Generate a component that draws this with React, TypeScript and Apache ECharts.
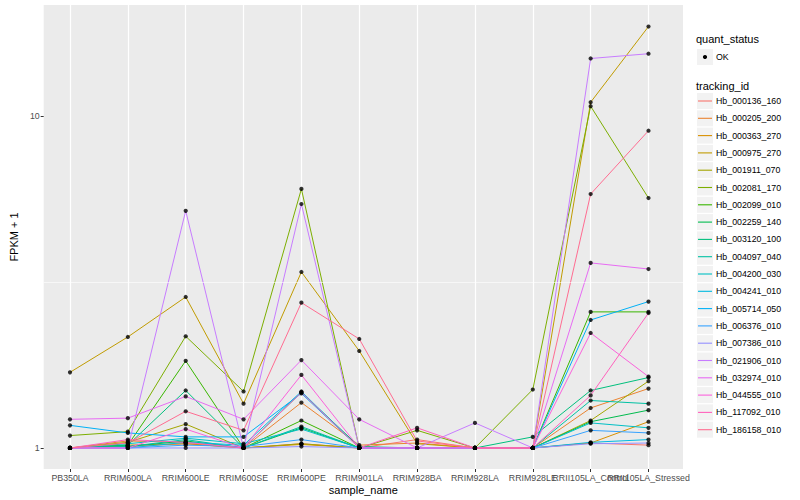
import React, { useEffect, useRef } from "react";
import * as echarts from "echarts";

const categories = [
  "PB350LA", "RRIM600LA", "RRIM600LE", "RRIM600SE", "RRIM600PE", "RRIM901LA",
  "RRIM928BA", "RRIM928LA", "RRIM928LE", "RRII105LA_Control", "RRII105LA_Stressed",
];

const trackingIds = [
  "Hb_000136_160", "Hb_000205_200", "Hb_000363_270", "Hb_000975_270", "Hb_001911_070",
  "Hb_002081_170", "Hb_002099_010", "Hb_002259_140", "Hb_003120_100", "Hb_004097_040",
  "Hb_004200_030", "Hb_004241_010", "Hb_005714_050", "Hb_006376_010", "Hb_007386_010",
  "Hb_021906_010", "Hb_032974_010", "Hb_044555_010", "Hb_117092_010", "Hb_186158_010",
];

const colors = [
  "#F8766D", "#EA8331", "#D89000", "#C09B00", "#A3A500", "#7CAE00", "#39B600", "#00BB4E",
  "#00BF7D", "#00C1A3", "#00BFC4", "#00BAE0", "#00B0F6", "#35A2FF", "#9590FF", "#C77CFF",
  "#E76BF3", "#FA62DB", "#FF62BC", "#FF6C91",
];

// FPKM + 1 per sample, in category order
const hb_000136_160 = [1, 1.01, 1.03, 1.0, 1.03, 1.0, 1.06, 1.0, 1.0, 1.035, 1.02];
const hb_000205_200 = [1, 1.05, 1.04, 1.0, 1.37, 1.02, 1.035, 1.0, 1.0, 1.32, 1.51];
const hb_000363_270 = [1, 1.02, 1.03, 1.0, 1.025, 1.0, 1.0, 1.0, 1.0, 1.035, 1.2];
const hb_000975_270 = [1.69, 2.16, 2.85, 1.36, 3.39, 1.96, 1.03, 1.0, 1.0, 11.0, 18.6];
const hb_001911_070 = [1, 1.04, 1.18, 1.0, 1.03, 1.0, 1.0, 1.0, 1.0, 1.21, 1.59];
const hb_002081_170 = [1.09, 1.12, 2.17, 1.48, 6.03, 1.0, 1.13, 1.0, 1.5, 10.7, 5.66];
const hb_002099_010 = [1, 1.02, 1.83, 1.0, 1.21, 1.0, 1.0, 1.0, 1.0, 2.57, 2.57];
const hb_002259_140 = [1, 1.01, 1.05, 1.0, 1.15, 1.0, 1.0, 1.0, 1.0, 1.2, 1.3];
const hb_003120_100 = [1, 1.02, 1.49, 1.0, 1.47, 1.01, 1.0, 1.0, 1.08, 1.49, 1.63];
const hb_004097_040 = [1, 1.01, 1.06, 1.0, 1.16, 1.0, 1.0, 1.0, 1.0, 1.39, 1.36];
const hb_004200_030 = [1, 1.03, 1.07, 1.03, 1.14, 1.0, 1.0, 1.0, 1.0, 1.19, 1.15];
const hb_004241_010 = [1, 1.0, 1.04, 1.02, 1.48, 1.0, 1.0, 1.0, 1.0, 1.04, 1.06];
const hb_005714_050 = [1.17, 1.11, 1.08, 1.08, 1.46, 1.0, 1.0, 1.0, 1.0, 2.43, 2.76];
const hb_006376_010 = [1, 1.0, 1.02, 1.01, 1.06, 1.0, 1.0, 1.0, 1.0, 1.13, 1.11];
const hb_007386_010 = [1, 1.0, 1.0, 1.0, 1.01, 1.0, 1.0, 1.0, 1.0, 1.03, 1.035];
const hb_021906_010 = [1, 1.0, 5.18, 1.0, 5.43, 1.0, 1.0, 1.19, 1.0, 14.9, 15.4];
const hb_032974_010 = [1.22, 1.23, 1.43, 1.22, 1.84, 1.22, 1.0, 1.0, 1.0, 3.61, 3.46];
const hb_044555_010 = [1, 1.0, 1.14, 1.0, 1.66, 1.0, 1.0, 1.0, 1.0, 2.22, 1.64];
const hb_117092_010 = [1, 1.06, 1.04, 1.0, 1.47, 1.0, 1.15, 1.0, 1.0, 1.44, 2.55];
const hb_186158_010 = [1, 1.035, 1.29, 1.13, 2.74, 2.13, 1.05, 1.0, 1.0, 5.82, 9.03];

const seriesValues = [
  hb_000136_160, hb_000205_200, hb_000363_270, hb_000975_270, hb_001911_070,
  hb_002081_170, hb_002099_010, hb_002259_140, hb_003120_100, hb_004097_040,
  hb_004200_030, hb_004241_010, hb_005714_050, hb_006376_010, hb_007386_010,
  hb_021906_010, hb_032974_010, hb_044555_010, hb_117092_010, hb_186158_010,
];

const yTicks = [1, 10];
const FONT = "Liberation Sans, Arial, Helvetica, sans-serif";

export default function App() {
  const ref = useRef<HTMLDivElement>(null);

  useEffect(() => {
    if (!ref.current) return;
    const chart = echarts.init(ref.current, undefined, { renderer: "svg" });

    const yMin = Math.pow(10, -0.0633);
    const yMax = Math.pow(10, 1.3343);

    const lineSeries = seriesValues.map((vals, k) => ({
      name: trackingIds[k],
      type: "line",
      xAxisIndex: 1,
      yAxisIndex: 1,
      data: vals,
      symbol: "none",
      showSymbol: false,
      lineStyle: { color: colors[k], width: 1 },
      itemStyle: { color: colors[k] },
      z: 3,
    }));

    const points: number[][] = [];
    seriesValues.forEach((vals) => vals.forEach((v, i) => points.push([i, v])));

    const graphics: any[] = [];
    graphics.push({
      type: "text", left: 696, top: 33,
      style: { text: "quant_status", fontSize: 11, fontFamily: FONT, fill: "#000" },
    });
    graphics.push({ type: "rect", shape: { x: 697, y: 49, width: 16, height: 16 }, style: { fill: "#F2F2F2" } });
    graphics.push({ type: "circle", shape: { cx: 705, cy: 57, r: 2.1 }, style: { fill: "#000" } });
    graphics.push({
      type: "text", x: 716, y: 57,
      style: { text: "OK", fontSize: 8.8, fontFamily: FONT, fill: "#000", verticalAlign: "middle" },
    });
    graphics.push({
      type: "text", left: 696, top: 80,
      style: { text: "tracking_id", fontSize: 11, fontFamily: FONT, fill: "#000" },
    });
    trackingIds.forEach((id, k) => {
      const cy = 101 + k * 17.3;
      graphics.push({ type: "rect", shape: { x: 697, y: cy - 8, width: 16, height: 16 }, style: { fill: "#F2F2F2" } });
      graphics.push({
        type: "line", shape: { x1: 698, y1: cy, x2: 712, y2: cy },
        style: { stroke: colors[k], lineWidth: 1.1 },
      });
      graphics.push({
        type: "text", x: 716, y: cy,
        style: { text: id, fontSize: 8.8, fontFamily: FONT, fill: "#000", verticalAlign: "middle" },
      });
    });

    const option: any = {
      animation: false,
      backgroundColor: "#FFFFFF",
      textStyle: { fontFamily: FONT },
      grid: [
        { left: 35, right: 117, top: 5, bottom: 31, show: true, backgroundColor: "#EBEBEB", borderWidth: 0 },
        { left: 70, right: 151.5, top: 5, bottom: 31 },
      ],
      xAxis: [
        {
          gridIndex: 0, type: "value", min: 0, max: 1,
          axisLine: { show: false }, axisTick: { show: false }, axisLabel: { show: false },
          splitLine: { show: false },
          name: "sample_name", nameLocation: "middle", nameGap: 15,
          nameTextStyle: { fontSize: 11, color: "#000", fontFamily: FONT },
        },
        {
          gridIndex: 1, type: "category", data: categories, boundaryGap: false,
          axisLine: { show: false },
          axisTick: { show: true, length: 3, interval: 0, lineStyle: { color: "#333333", width: 1 } },
          axisLabel: { interval: 0, fontSize: 8.8, color: "#4D4D4D", margin: 4, fontFamily: FONT },
          splitLine: { show: true, interval: 0, lineStyle: { color: "#FFFFFF", width: 1.2 } },
        },
      ],
      yAxis: [
        {
          gridIndex: 0, type: "log", logBase: 10, min: yMin, max: yMax,
          axisLine: { show: false },
          axisTick: { show: true, length: 3, customValues: yTicks, lineStyle: { color: "#333333", width: 1 } },
          axisLabel: {
            customValues: yTicks, fontSize: 8.8, color: "#4D4D4D", margin: 4, fontFamily: FONT,
            formatter: (v: number) => {
              const e = Math.log10(v);
              return Math.abs(e - Math.round(e)) < 1e-6 ? String(Math.round(v)) : "";
            },
          },
          splitLine: { show: true, showMinLine: false, showMaxLine: false, lineStyle: { color: "#FFFFFF", width: 1.2 } },
          name: "FPKM + 1", nameLocation: "middle", nameGap: 17,
          nameTextStyle: { fontSize: 11, color: "#000", fontFamily: FONT },
        },
        { gridIndex: 1, type: "log", logBase: 10, min: yMin, max: yMax, show: false },
      ],
      series: [
        {
          name: "minor", type: "line", xAxisIndex: 0, yAxisIndex: 0, data: [], z: 1,
          markLine: {
            silent: true, symbol: "none", label: { show: false },
            lineStyle: { color: "#FFFFFF", width: 0.6, type: "solid" },
            data: [{ yAxis: Math.sqrt(10) }],
          },
        },
        ...lineSeries,
        {
          name: "OK", type: "scatter", xAxisIndex: 1, yAxisIndex: 1, data: points,
          symbol: "circle", symbolSize: 4.2, itemStyle: { color: "#000000" }, z: 5,
        },
      ],
      graphic: graphics,
    };

    chart.setOption(option);
    return () => chart.dispose();
  }, []);

  return <div ref={ref} style={{ position: "fixed", left: 0, top: 0, width: 800, height: 500 }} />;
}
